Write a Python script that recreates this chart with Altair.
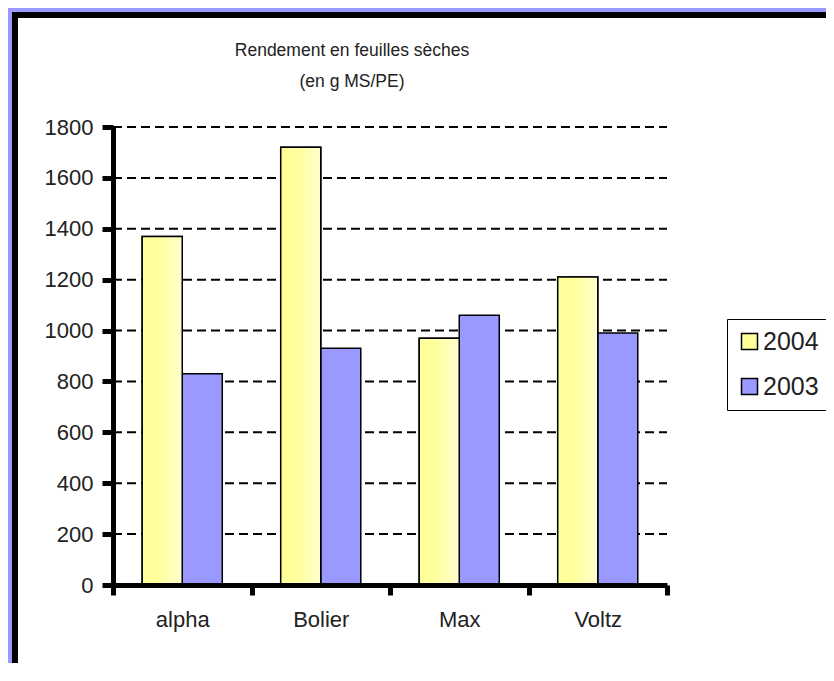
import altair as alt
import pandas as pd

varieties = ["alpha", "Bolier", "Max", "Voltz"]
years = ["2004", "2003"]
values_2004 = [1370, 1720, 970, 1210]
values_2003 = [830, 930, 1060, 990]
y_ticks = [0, 200, 400, 600, 800, 1000, 1200, 1400, 1600, 1800]
title_lines = ["Rendement en feuilles sèches", "(en g MS/PE)"]

rows = []
for v, a, b in zip(varieties, values_2004, values_2003):
    rows.append({"variety": v, "year": "2004", "value": a})
    rows.append({"variety": v, "year": "2003", "value": b})
df = pd.DataFrame(rows)
grid_df = pd.DataFrame({"tick": [t for t in y_ticks if t > 0]})
frame_df = pd.DataFrame({"k": [0]})

W, H = 554, 458
FONT = "Liberation Sans"

x_enc = alt.X(
    "variety:N",
    sort=varieties,
    scale=alt.Scale(paddingInner=0, paddingOuter=0),
    axis=alt.Axis(
        title=None, labelAngle=0, labelFontSize=22, labelColor="#222",
        labelFont=FONT, domainColor="black", domainWidth=5,
        tickColor="black", tickWidth=5, tickSize=10, tickBand="extent",
        labelPadding=14, grid=False, zindex=1,
    ),
)
xoff_enc = alt.XOffset(
    "year:N", sort=years,
    scale=alt.Scale(domain=years, paddingInner=0, paddingOuter=0.73),
)
y_enc = alt.Y(
    "value:Q",
    scale=alt.Scale(domain=[0, 1800], nice=False),
    axis=alt.Axis(
        title=None, values=y_ticks, format="d", labelFontSize=22,
        labelColor="#222", labelFont=FONT, domainColor="black", domainWidth=5,
        tickColor="black", tickWidth=5, tickSize=11, labelPadding=9,
        grid=False, zindex=1,
    ),
)

frame = alt.Chart(frame_df).mark_rect(
    fill="white", stroke="black", strokeWidth=6
).encode(
    x=alt.value(-98), x2=alt.value(720), y=alt.value(-112), y2=alt.value(560)
)

grid = alt.Chart(grid_df).mark_rule(
    color="black", strokeWidth=2, strokeDash=[9, 5]
).encode(
    y=alt.Y("tick:Q", scale=alt.Scale(domain=[0, 1800], nice=False)),
    x=alt.value(0), x2=alt.value(W),
)

bars = alt.Chart(df).mark_bar(stroke="black", strokeWidth=1.5).encode(
    x=x_enc, xOffset=xoff_enc, y=y_enc,
    color=alt.Color(
        "year:N",
        scale=alt.Scale(domain=years, range=["#FFFF99", "#9999FF"]),
        legend=alt.Legend(
            title=None, orient="none", legendX=614, legendY=192,
            symbolType="square", symbolSize=256, symbolStrokeColor="black",
            symbolStrokeWidth=1.5, labelFontSize=25, labelFont=FONT,
            labelColor="#222", labelOffset=1, rowPadding=19,
            strokeColor="black", fillColor="white", padding=10,
            cornerRadius=0, zindex=1,
        ),
    ),
)

gradient = alt.Gradient(
    gradient="linear",
    stops=[
        alt.GradientStop(color="#FFFF99", offset=0),
        alt.GradientStop(color="#FFFF9E", offset=0.45),
        alt.GradientStop(color="#FFFFD0", offset=1),
    ],
    x1=0, x2=1, y1=0, y2=0,
)

bars_2004 = alt.Chart(df).transform_filter(
    alt.datum.year == "2004"
).mark_bar(fill=gradient, stroke="black", strokeWidth=1.5).encode(
    x=x_enc, xOffset=xoff_enc, y=y_enc,
)

chart = alt.layer(frame, grid, bars, bars_2004).properties(
    width=W, height=H,
    title=alt.TitleParams(
        text=title_lines, fontSize=17.5, font=FONT, color="#222",
        fontWeight="normal", lineHeight=31, anchor="middle", dx=-38,
        baseline="bottom", offset=-96, frame="group", zindex=1,
    ),
    autosize=alt.AutoSizeParams(type="none"),
    padding={"left": 105, "top": 119, "right": 159, "bottom": 78},
    background="#9999FF",
).configure_view(stroke=None)

chart.save("out.html", embed_options={"renderer": "svg", "actions": False})
